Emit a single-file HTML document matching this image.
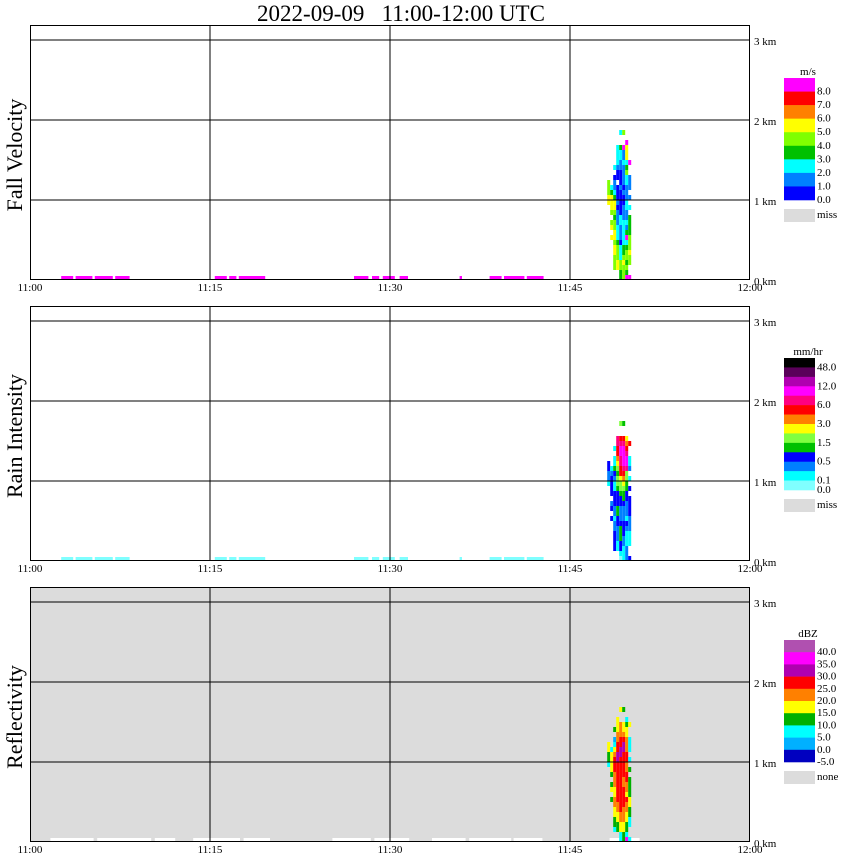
<!DOCTYPE html>
<html><head><meta charset="utf-8"><style>
body{margin:0;background:#fff;}
svg{display:block;font-family:"Liberation Serif",serif;}
</style></head><body>
<svg id="chart" width="850" height="868" viewBox="0 0 850 868" xmlns="http://www.w3.org/2000/svg">
<text x="401" y="21" font-size="23" text-anchor="middle" style="white-space:pre" xml:space="preserve">2022-09-09   11:00-12:00 UTC</text>
<g id="panels"></g>
</svg>
<script>
// ---- data ----
const timeTicks = ["11:00","11:15","11:30","11:45","12:00"];
const tickMinutes = [0,15,30,45,60];
const heightTicks = ["0 km","1 km","2 km","3 km"];
const heightKm = [0,1,2,3];
const panelTitles = ["Fall Velocity","Rain Intensity","Reflectivity"];
const velColors = ["#0000ff","#0080ff","#00ffff","#00c000","#80ff00","#ffff00","#ff8000","#ff0000","#ff00ff"];
const velLabels = ["8.0","7.0","6.0","5.0","4.0","3.0","2.0","1.0","0.0"];
const rainColors = ["#80ffff","#00ffff","#0080ff","#0000ff","#00c000","#80ff40","#ffff00","#ff8000","#ff0000","#ff0080","#ff00ff","#b000b0","#5a005a","#000000"];
const rainLabels = ["48.0","","12.0","","6.0","","3.0","","1.5","","0.5","","0.1","0.0"];
const dbzColors = ["#0000c0","#00b0ff","#00ffff","#00b000","#ffff00","#ff8000","#ff0000","#b000b0","#ff00ff","#b050b0"];
const dbzLabels = ["40.0","35.0","30.0","25.0","20.0","15.0","10.0","5.0","0.0","-5.0"];
const clusterStart = 48.1;
const colMinutes = 0.25;
const rowKm = 0.0625;
const velCols = [
"...............55444..........",
"........5.54.455532...........",
"..4445545544345532110.2.......",
"..55444322211101000.0012222...",
"334422201112200000100011223..2",
"444543322222111001011112118..4",
"8343443283121122111224325558..",
"8..4454443333.2.1.111..8......"];
const rainCols = [
"...............12233..........",
"........3.32.333321...........",
"..3333221223331123411.1.......",
"..11222334433345545678899.....",
"013344432223345568899aa98..5..",
"1112233322234456789aaaa98..4..",
"2221112312223344559aa9876.....",
"3..1112223333.3.1.211..8......"];
const dbzCols = [
"...............23344..........",
"........3.43.344442...........",
"..2334455445556665421.3.......",
"..33445566666666776655444.....",
"224455666666666667766555..4...",
"334455566665566666776544..3...",
"8233445564556655665554432.....",
"2..2233443333.3.2.222..4......"];
const noiseSegs = [[2.6,3.6],[3.8,5.2],[5.4,6.9],[7.1,8.3],[15.4,16.4],[16.6,17.2],[17.4,19.6],[27,28.2],[28.5,29.1],[29.4,30.4],[30.8,31.5],[35.8,36],[38.3,39.3],[39.5,41.2],[41.4,42.8]];
const dbzNoiseSegs = [[1.7,5.3],[5.6,10.1],[10.4,12.1],[13.6,17.5],[17.8,20],[25.2,28.4],[28.7,31.6],[33.5,36.3],[36.6,40.1],[40.3,42.7],[48.3,49.2],[49.9,50.8]];

const NS="http://www.w3.org/2000/svg";
const X0=30,X1=750;
function xs(m){return X0+(X1-X0)*m/60;}
function mk(tag,attrs,parent){const e=document.createElementNS(NS,tag);for(const k in attrs)e.setAttribute(k,attrs[k]);parent.appendChild(e);return e;}
const root=document.getElementById('panels');
const panelTops=[25,306,587];
const cfg=[
 {cols:velCols,pal:velColors,labs:velLabels,unit:"m/s",noise:noiseSegs,ncol:"#ff00ff",bg:"#fff",legTop:78,legH:122,miss:"miss"},
 {cols:rainCols,pal:rainColors,labs:rainLabels,unit:"mm/hr",noise:noiseSegs,ncol:"#80ffff",bg:"#fff",legTop:358,legH:132,miss:"miss"},
 {cols:dbzCols,pal:dbzColors,labs:dbzLabels,unit:"dBZ",noise:dbzNoiseSegs,ncol:"#ffffff",bg:"#dcdcdc",legTop:640,legH:122,miss:"none"}];
cfg.forEach((c,p)=>{
 const top=panelTops[p], base=top+255;
 const ys=km=>base-80*km;
 const g=mk('g',{},root);
 
 
 const bg=mk('rect',{x:X0,y:top,width:X1-X0,height:255,fill:c.bg},g);
 
 
 c.noise.forEach(s=>{const r=mk('rect',{x:xs(s[0]),y:ys(0.05),width:xs(s[1])-xs(s[0]),height:80*0.05,fill:c.ncol},g);
  
  });
 c.cols.forEach((col,ci)=>{
  for(let ri=0;ri<col.length;ri++){const ch=col[ri]; if(ch==='.')continue;
   const v=parseInt(ch,16); const m=clusterStart+ci*colMinutes;
   const r=mk('rect',{x:xs(m),y:ys((ri+1)*rowKm),width:xs(m+colMinutes)-xs(m),height:80*rowKm,fill:c.pal[Math.min(v,c.pal.length-1)]},g);
   
   }
 });
 heightKm.forEach(k=>{if(k>0)mk('line',{x1:X0,x2:X1,y1:ys(k),y2:ys(k),stroke:"#000"},g);});
 tickMinutes.forEach(m=>{if(m>0&&m<60)mk('line',{x1:xs(m),x2:xs(m),y1:top,y2:base,stroke:"#000"},g);});
 const fr=mk('rect',{x:X0+.5,y:top+.5,width:X1-X0-1,height:254,fill:"none",stroke:"#000"},g);
 
 
 heightKm.forEach((k,i)=>{const t=mk('text',{x:754,y:ys(k)+5,"font-size":11},g);t.textContent=heightTicks[i];
  
  });
 tickMinutes.forEach((m,i)=>{const t=mk('text',{x:xs(m),y:base+11,"font-size":11,"text-anchor":"middle"},g);t.textContent=timeTicks[i];
  
  });
 const yt=mk('text',{x:0,y:0,"font-size":22,"text-anchor":"middle",transform:`translate(22,${top+130}) rotate(-90)`},g);
 yt.textContent=panelTitles[p];
 
 
 const lg=mk('g',{},g);
 
 
 const n=c.pal.length, h=c.legH/n;
 const ut=mk('text',{x:808,y:c.legTop-3,"font-size":11,"text-anchor":"middle"},lg);ut.textContent=c.unit;
 for(let i=0;i<n;i++){
  mk('rect',{x:784,y:c.legTop+i*h,width:31,height:h+0.3,fill:c.pal[n-1-i]},lg);
  const t=mk('text',{x:817,y:c.legTop+(i+1)*h+3,"font-size":11},lg);t.textContent=c.labs[i];
 }
 mk('rect',{x:784,y:c.legTop+c.legH+9,width:31,height:13,fill:"#dcdcdc"},lg);
 const mt=mk('text',{x:817,y:c.legTop+c.legH+18,"font-size":11},lg);mt.textContent=c.miss;
});
</script>
</body></html>
